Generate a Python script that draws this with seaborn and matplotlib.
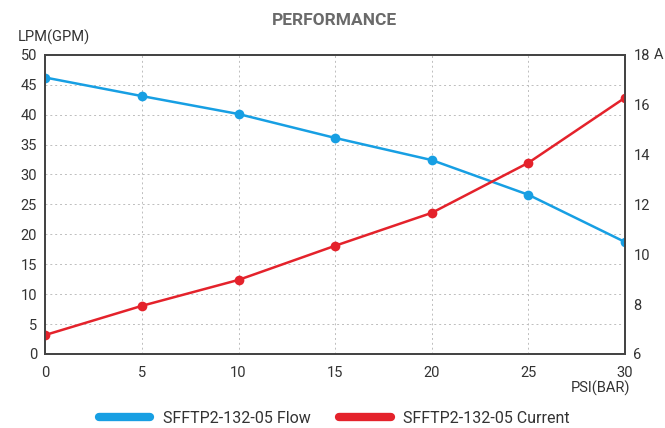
import numpy as np
import pandas as pd
import matplotlib
matplotlib.use("Agg")
import matplotlib.pyplot as plt
import seaborn as sns
from matplotlib.lines import Line2D

psi = [0, 5, 10, 15, 20, 25, 30]
flow = [46.2, 43.1, 40.1, 36.1, 32.4, 26.6, 18.7]
current = [6.76, 7.93, 8.97, 10.34, 11.66, 13.67, 16.28]
flow_name = "SFFTP2-132-05 Flow"
current_name = "SFFTP2-132-05 Current"

blue = "#179fe3"
red = "#e4222b"
txt = "#333333"

sns.set_style("white")
plt.rcParams["font.family"] = ["Roboto", "DejaVu Sans"]

df = pd.DataFrame({"psi": psi, "flow": flow, "current": current})

fig = plt.figure(figsize=(6.65, 4.28), dpi=100)
ax = fig.add_axes([0.068, 0.173, 0.872, 0.699])
ax2 = ax.twinx()

sns.lineplot(data=df, x="psi", y="flow", ax=ax, color=blue, marker="o",
             markersize=7, markeredgewidth=0, linewidth=1.8)
sns.lineplot(data=df, x="psi", y="current", ax=ax2, color=red, marker="o",
             markersize=7, markeredgewidth=0, linewidth=1.8)

ax.set_xlim(0, 30)
ax.set_ylim(0, 50)
ax2.set_ylim(6, 18)
ax.set_xticks(psi)
ax.set_yticks(np.arange(0, 51, 5))
ax2.set_yticks(np.arange(6, 19, 2))
ax.set_xlabel("")
ax.set_ylabel("")
ax2.set_ylabel("")

ax.grid(True, linestyle=(0, (2, 3)), color="#bdbdbd", linewidth=0.7)
ax2.grid(False)
for a in (ax, ax2):
    for s in a.spines.values():
        s.set_color("#444444")
        s.set_linewidth(1.3)
    a.tick_params(length=0, labelsize=10.5, colors=txt, pad=6)
ax.tick_params(axis="x", pad=9)

fig.text(0.503, 0.953, "PERFORMANCE", ha="center", va="center",
         fontsize=12.5, fontweight="bold", color="#6a6a6a")
fig.text(0.027, 0.912, "LPM(GPM)", ha="left", va="center", fontsize=10.5, color=txt)
fig.text(0.997, 0.871, "A", ha="right", va="center", fontsize=10.5, color=txt)
fig.text(0.948, 0.093, "PSI(BAR)", ha="right", va="center", fontsize=10.5, color=txt)

handles = [Line2D([0], [0], color=blue, lw=6, solid_capstyle="round"),
           Line2D([0], [0], color=red, lw=6, solid_capstyle="round")]
fig.legend(handles, [flow_name, current_name], loc="center",
           bbox_to_anchor=(0.503, 0.022), ncol=2, frameon=False,
           fontsize=11.5, handlelength=3.2, columnspacing=1.8,
           labelcolor=txt)

fig.savefig("out.png", dpi=100)
